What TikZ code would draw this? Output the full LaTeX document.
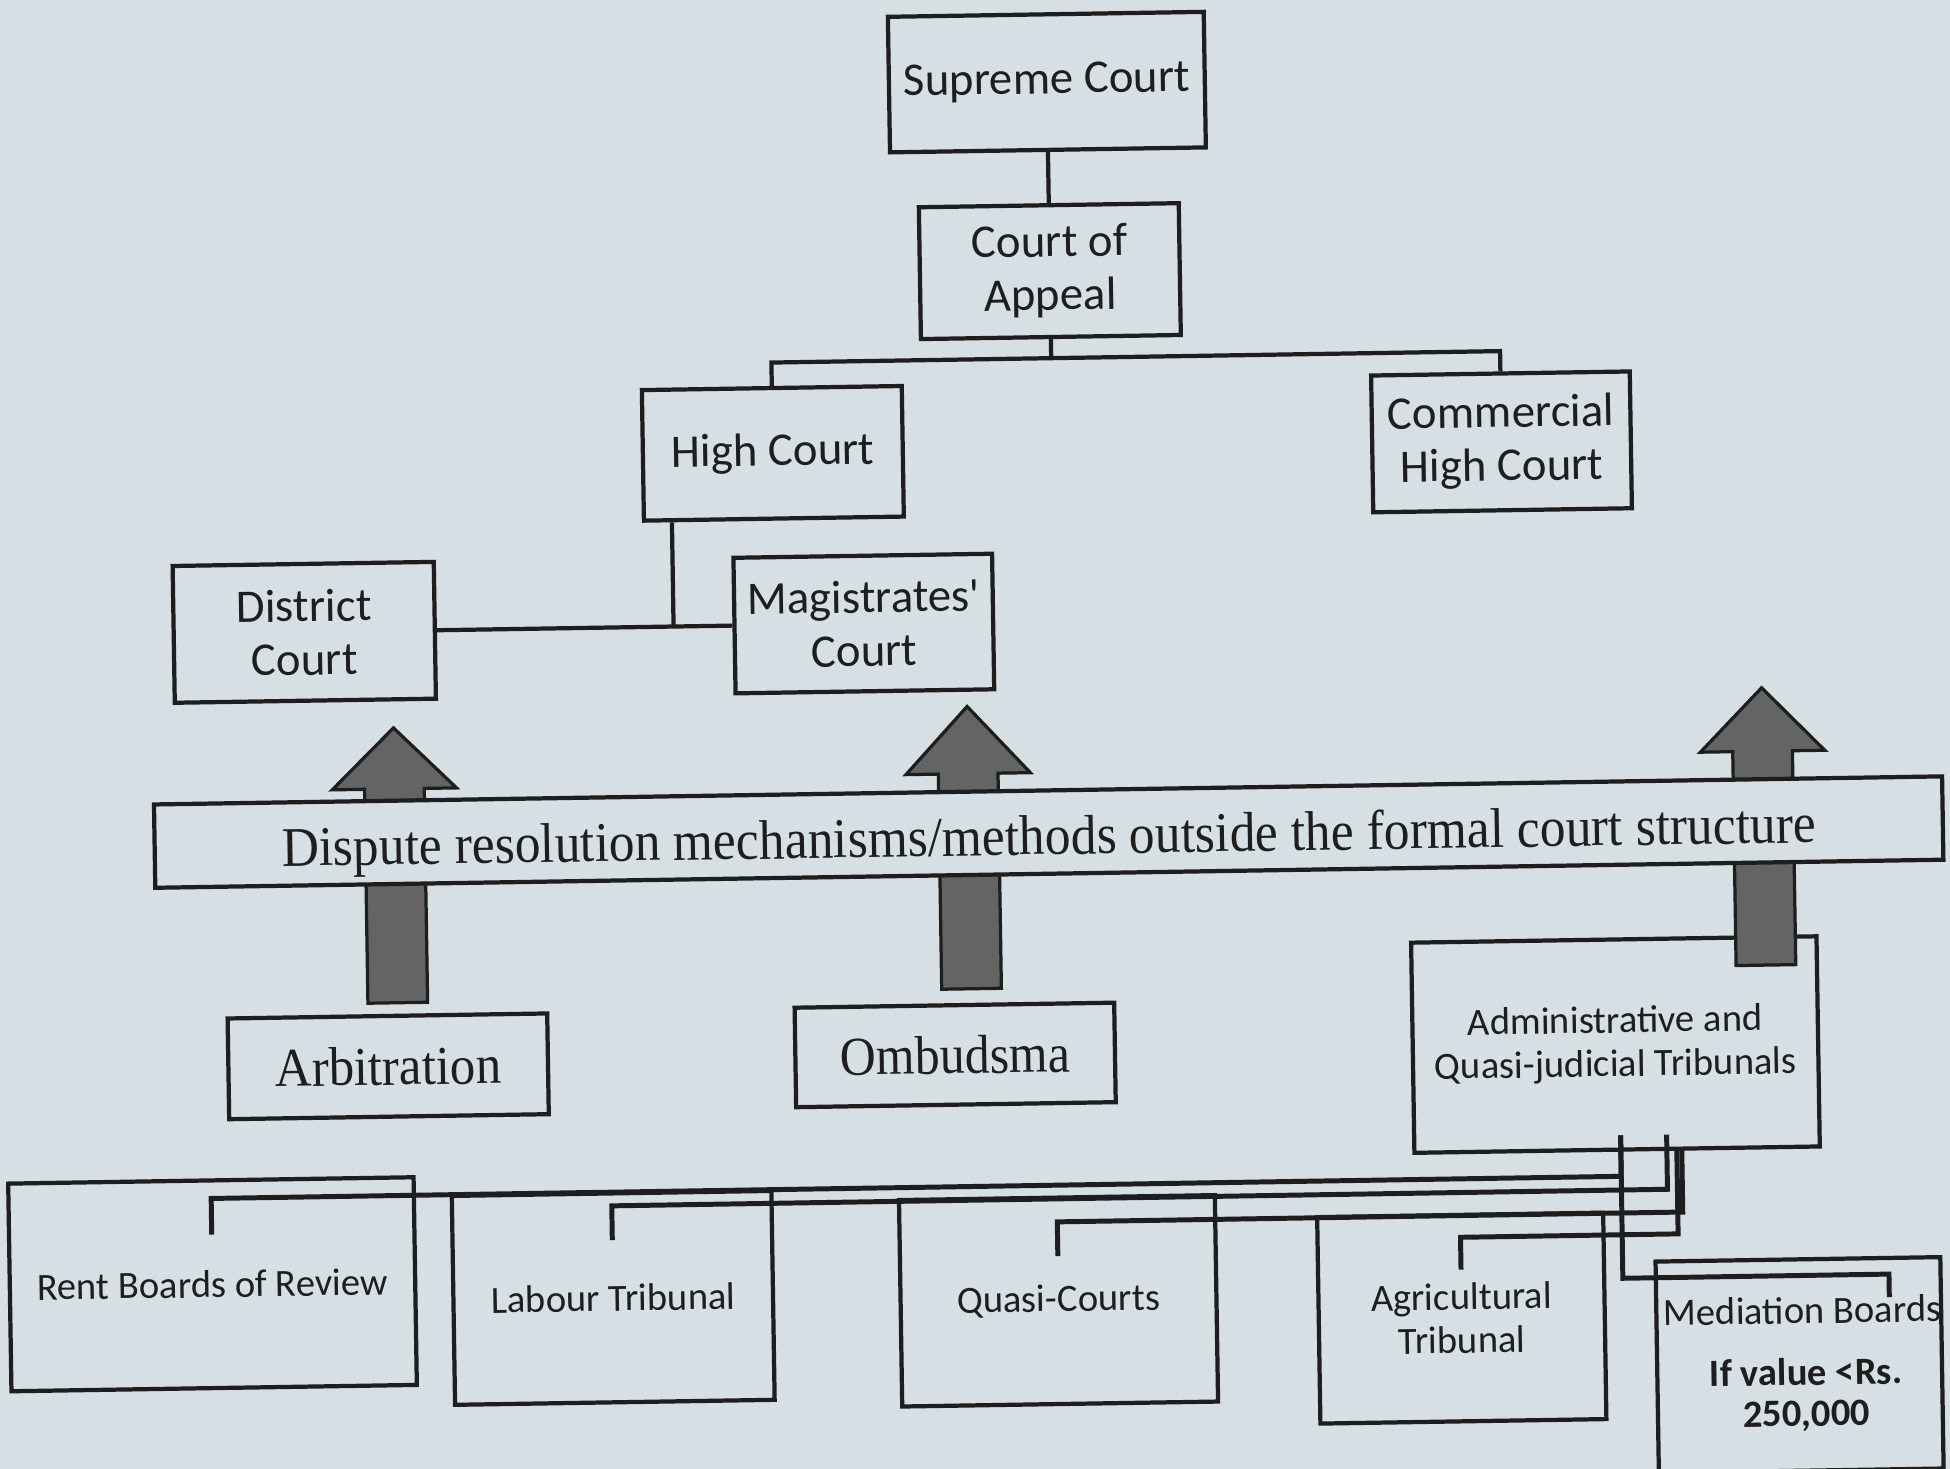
\documentclass[tikz,border=0pt]{standalone}
\usepackage{fontspec}
\setmainfont{Carlito}
\newfontfamily\serifx{Liberation Serif}
\definecolor{bg}{HTML}{D6DFE3}
\definecolor{ink}{HTML}{1E1E1E}
\definecolor{agray}{HTML}{646464}
\tikzset{
  box/.style 2 args={draw=ink, line width=1.7pt, fill=bg, minimum width=#1*0.5pt, minimum height=#2*0.5pt, inner sep=0pt, align=center, text=ink, font=\fontsize{18.8}{21.5}\selectfont},
  sbox/.style 2 args={box={#1}{#2}, font=\fontsize{15.5}{17.5}\selectfont},
  serbox/.style 2 args={box={#1}{#2}, font=\serifx\fontsize{22}{26}\selectfont},
  conn/.style={draw=ink, line width=1.7pt},
  bconn/.style={draw=ink, line width=2pt},
  blockarrow/.style={draw=ink, line width=1.3pt, fill=agray, line join=miter},
  lbl/.style={inner sep=0pt, text=ink, align=center, font=\fontsize{15.5}{16.5}\selectfont}
}
\newcommand\UpArr[4]{\draw[blockarrow] (#1-24,#2) -- (#1-24,#3) -- (#1-50,#3) -- (#1,#4) -- (#1+50,#3) -- (#1+24,#3) -- (#1+24,#2) -- cycle;}
\begin{document}
\begin{tikzpicture}[x={(0.5pt,0pt)}, y={(0pt,-0.5pt)}]
\fill[bg] (0,0) rectangle (1568,1181);
\useasboundingbox (0,0) rectangle (1568,1181);
\begin{scope}[transform canvas={rotate around={0.9:(784,590)}}]
 % formal courts
 \node[box={254}{109}] (sup) at (850,67) {Supreme Court};
 \node[box={209}{106}] (coa) at (850,219) {Court of\\Appeal};
 \node[box={209}{105}] (hc) at (625,362) {High Court};
 \node[box={208}{110}] (ch) at (1211,362) {Commercial\\High Court};
 \node[box={210}{110}] (dc) at (246,500) {District\\Court};
 \node[box={208}{109}] (mc) at (696,500) {Magistrates\textquotesingle\\Court};
 \draw[conn] (sup.south) -- (coa.north);
 \coordinate (bus) at (850,289);
 \draw[conn] (coa.south) -- (bus);
 \draw[conn] (hc.north) |- (bus) -| (ch.north);
 \coordinate (hj) at (543,500);
 \draw[conn] (dc.east) -- (mc.west);
 \draw[conn] (hc.south -| hj) -- (hj);
 % other mechanisms
 \node[serbox={257}{81}] (arb) at (308,850) {\scalebox{0.93}[1]{Arbitration}};
 \node[serbox={257}{80}] (omb) at (764,848) {\scalebox{0.91}[1]{Ombudsma}};
 \node[sbox={326}{169}] (adm) at (1295,848) {Administrative and\\Quasi-judicial Tribunals};
 \UpArr{316.5}{799}{627}{578}
 \UpArr{778}{795}{622}{568}
 \UpArr{1417}{786}{614}{563}
 \node[draw=ink, line width=1.7pt, fill=bg, minimum width=1438*0.5pt, minimum height=67*0.5pt, inner sep=0pt, text=ink, font=\serifx\fontsize{22.5}{24}\selectfont] (ban) at (842,670) {\raisebox{-9pt}[0pt][0pt]{\scalebox{0.92}[1]{Dispute resolution mechanisms/methods outside the formal court structure}}};
 % tribunals
 \node[sbox={326}{167}] (rent) at (164,1023) {Rent Boards of Review};
 \node[sbox={257}{168}] (lab) at (486,1039) {Labour Tribunal};
 \node[sbox={254}{166}] (qc) at (844,1047) {Quasi-Courts};
 \node[sbox={230}{166}] (agr) at (1168,1066) {Agricultural\\Tribunal};
 \node[sbox={229}{170}] (med) at (1439,1108) {};
 \node[lbl] (medt) at (1442,1064) {Mediation Boards};
 \node[lbl, font=\bfseries\fontsize{15.5}{16.5}\selectfont] (medv) at (1444,1132) {If value <Rs.\\250,000};
 \coordinate (s1) at (1298,921);
 \coordinate (s2) at (1335,921);
 \coordinate (s3) at (1343,932.5);
 \coordinate (s4) at (1347,932.5);
 \draw[bconn] (s1) |- (rent.center |- 0,954) -- (rent.center |- 0,983);
 \draw[bconn] (s1) |- (1512,1036) -- (1512,1054.5);
 \draw[bconn] (s2) |- (lab.center |- 0,965) -- (lab.center |- 0,992.5);
 \draw[bconn] (s4) |- (qc.center |- 0,983.5) -- (qc.center |- 0,1011);
 \draw[bconn] (s3) |- (agr.center |- 0,1001) -- (agr.center |- 0,1027);
\end{scope}
\end{tikzpicture}
\end{document}
